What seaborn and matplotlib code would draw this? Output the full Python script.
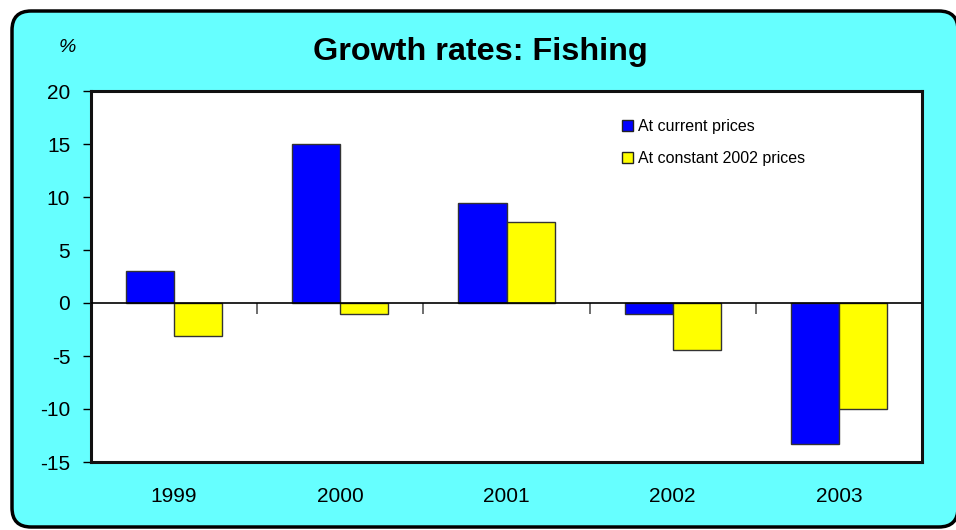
import matplotlib
matplotlib.use("Agg")
import matplotlib.pyplot as plt
from matplotlib.patches import FancyBboxPatch, Patch
import seaborn as sns
import pandas as pd

years = ["1999", "2000", "2001", "2002", "2003"]
current_prices = [3.0, 15.0, 9.4, -1.0, -13.3]
constant_prices = [-3.1, -1.0, 7.6, -4.4, -10.0]
series_names = ["At current prices", "At constant 2002 prices"]
series_colors = ["#0000FF", "#FFFF00"]
y_ticks = [-15, -10, -5, 0, 5, 10, 15, 20]

df = pd.DataFrame({
    "year": years * 2,
    "growth": current_prices + constant_prices,
    "series": [series_names[0]] * len(years) + [series_names[1]] * len(years),
})

sns.set_style("white")
plt.rcParams["font.family"] = ["Liberation Sans", "DejaVu Sans"]
plt.rcParams["text.color"] = "black"
plt.rcParams["xtick.color"] = "black"
plt.rcParams["ytick.color"] = "black"
plt.rcParams["axes.labelcolor"] = "black"

W, H = 956, 530
fig = plt.figure(figsize=(W / 100, H / 100), dpi=100)
fig.patch.set_facecolor("white")

# rounded cyan panel behind the chart
panel = FancyBboxPatch((12 / W, 3 / H), (958 - 12) / W, (519 - 3) / H,
                       boxstyle="round,pad=0,rounding_size=0.02",
                       transform=fig.transFigure, facecolor="#66FFFF",
                       edgecolor="black", linewidth=2.5, zorder=-10,
                       mutation_aspect=W / H)
fig.patches.append(panel)

ax = fig.add_axes([91 / W, (H - 462) / H, (922 - 91) / W, (462 - 91) / H])
ax.set_facecolor("white")

sns.barplot(data=df, x="year", y="growth", hue="series", order=years,
            hue_order=series_names, palette=series_colors, width=0.58,
            edgecolor="#333333", linewidth=1.0, saturation=1, ax=ax,
            legend=False, zorder=3)

ax.set_ylim(-15, 20)
ax.set_xlim(-0.5, len(years) - 0.5)
ax.set_yticks(y_ticks)
ax.set_yticklabels([str(t) for t in y_ticks], fontsize=15)
ax.tick_params(axis="y", direction="out", length=6, width=1, color="black",
               pad=9, left=True)
ax.set_xticks(range(len(years)))
ax.set_xticklabels(years, fontsize=15)
ax.tick_params(axis="x", length=0, pad=18)
ax.set_xlabel("")
ax.set_ylabel("")

for s in ax.spines.values():
    s.set_visible(True)
    s.set_color("#111111")
    s.set_linewidth(2.2)

# zero line with category separators
ax.axhline(0, color="black", linewidth=1.2, zorder=4)
sec = ax.secondary_xaxis(15 / 35)
sec.set_xticks([i + 0.5 for i in range(len(years) - 1)])
sec.set_xticklabels([])
sec.tick_params(axis="x", direction="out", length=8, width=1.2, color="#555555")
sec.spines["bottom"].set_visible(False)
sec.spines["top"].set_visible(False)

handles = [Patch(facecolor=c, edgecolor="#222222", linewidth=1.0) for c in series_colors]
fig.legend(handles, series_names, loc="upper left",
           bbox_to_anchor=(622 / W, 1 - 119 / H), frameon=False, fontsize=11.5,
           handlelength=0.7, handleheight=0.7, handletextpad=0.3,
           labelspacing=1.05, borderpad=0, borderaxespad=0)

fig.text(480 / W, 1 - 52 / H, "Growth rates: Fishing", fontsize=23.3,
         fontweight="bold", ha="center", va="center")
fig.text(67 / W, 1 - 48 / H, "%", fontsize=14, fontstyle="italic",
         ha="center", va="center")

fig.savefig("out.png", dpi=100)
